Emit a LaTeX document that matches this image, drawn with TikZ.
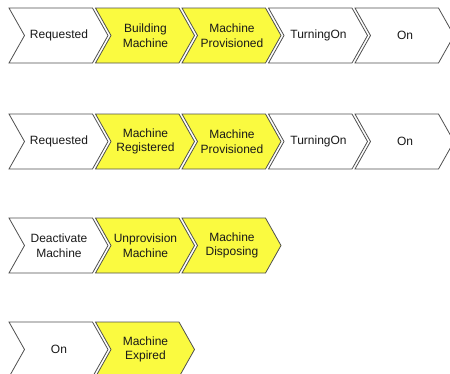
\documentclass[tikz,border=0pt]{standalone}
\usepackage{fontspec}
\setmainfont{Liberation Sans}
\definecolor{chevyellow}{RGB}{250,250,64}
\definecolor{chevline}{RGB}{80,80,80}
\definecolor{chevtext}{RGB}{25,25,25}
\newcommand{\chevron}[5]{%
  \filldraw[chevshape, fill=#3] (#1,#2) -- ++(83.5,0) -- ++(15.5,27.5) -- ++(-15.5,27.5) -- ++(-83.5,0) -- ++(15.5,-27.5) -- cycle;
  \node[chevlabel] (#4) at ({#1+50},{#2+27.5}) {#5};
}
\begin{document}
\begin{tikzpicture}[x=1pt,y=-1pt,
  chevshape/.style={draw=chevline, line width=0.8pt, line join=miter},
  chevlabel/.style={text=chevtext, font=\fontsize{12}{14.5}\selectfont, align=center, inner sep=0pt}]
\useasboundingbox (0,0) rectangle (450,373);
\clip (0,0) rectangle (450,373);
% row 1
\chevron{9}{8}{white}{a1}{Requested}
\chevron{95.5}{8}{chevyellow}{a2}{Building\\Machine}
\chevron{182}{8}{chevyellow}{a3}{Machine\\Provisioned}
\chevron{268.5}{8}{white}{a4}{TurningOn}
\chevron{355}{8}{white}{a5}{On}
% row 2
\chevron{9}{114}{white}{b1}{Requested}
\chevron{95.5}{114}{chevyellow}{b2}{Machine\\Registered}
\chevron{182}{114}{chevyellow}{b3}{Machine\\Provisioned}
\chevron{268.5}{114}{white}{b4}{TurningOn}
\chevron{355}{114}{white}{b5}{On}
% row 3
\chevron{9}{218}{white}{c1}{Deactivate\\Machine}
\chevron{95.5}{218}{chevyellow}{c2}{Unprovision\\Machine}
\chevron{182}{218}{chevyellow}{c3}{Machine\\Disposing}
% row 4
\chevron{9}{322}{white}{d1}{On}
\chevron{95.5}{322}{chevyellow}{d2}{Machine\\Expired}
\end{tikzpicture}
\end{document}
